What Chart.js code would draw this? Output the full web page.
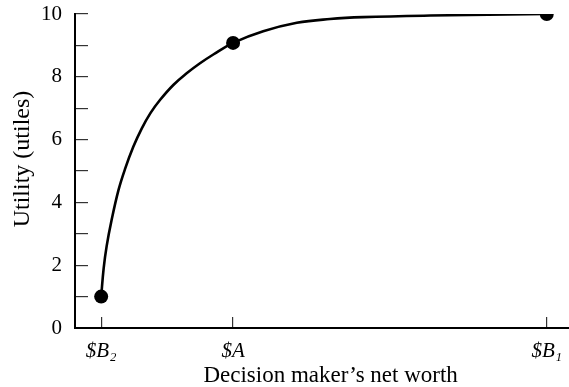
<!DOCTYPE html>
<html>
<head>
<meta charset="utf-8">
<script src="https://cdn.jsdelivr.net/npm/chart.js@4/dist/chart.umd.min.js"></script>
<style>
  html, body { margin: 0; padding: 0; background: #fff; overflow: hidden; }
  #wrap { width: 576px; height: 387px; position: relative; }
</style>
</head>
<body>
<div id="wrap"><canvas id="c"></canvas></div>
<script>
// Category tick positions on the net-worth axis and their labels
const xTickLabels = ['$B\u2082', '$A', '$B\u2081'];
const xTickValues = [5.3, 32, 95.5];

// Utility curve
const curveX = [5.3, 5.8, 6.4, 7.4, 8.8, 10.1, 11.8, 13.5, 15.3, 17.2, 19.9, 22.6, 25.3, 28.0, 32, 38.1, 44.9, 51.6, 58.3, 71.9, 95.5];
const curveY = [1.0, 1.9, 2.6, 3.43, 4.39, 5.05, 5.77, 6.35, 6.85, 7.26, 7.74, 8.11, 8.43, 8.71, 9.08, 9.45, 9.72, 9.84, 9.9, 9.95, 10.0];

// Marked points: $B2, $A, $B1
const markerX = [5.3, 32, 95.5];
const markerY = [1.0, 9.08, 10.0];

// Y tick labels (odd values are unlabeled minor ticks)
const yTickLabels = ['0', '', '2', '', '4', '', '6', '', '8', '', '10'];

const serif = '"Liberation Serif", "Times New Roman", serif';

new Chart(document.getElementById('c'), {
  type: 'scatter',
  data: {
    datasets: [
      {
        data: curveX.map((x, i) => ({ x, y: curveY[i] })),
        showLine: true,
        borderColor: '#000',
        borderWidth: 2.6,
        pointRadius: 0,
        tension: 0.4,
        fill: false
      },
      {
        data: markerX.map((x, i) => ({ x, y: markerY[i] })),
        showLine: false,
        pointRadius: 7,
        pointBackgroundColor: '#000',
        pointBorderColor: '#000',
        pointBorderWidth: 0
      }
    ]
  },
  options: {
    responsive: true,
    maintainAspectRatio: false,
    animation: false,
    layout: { padding: { top: 14, right: 0, left: 0, bottom: 0 } },
    plugins: { legend: { display: false }, tooltip: { enabled: false } },
    scales: {
      x: {
        type: 'linear',
        min: 0,
        max: 100,
        afterBuildTicks: (s) => { s.ticks = xTickValues.map(v => ({ value: v })); },
        afterFit: (s) => { s.height = 59; s.paddingLeft = 0; s.paddingRight = 0; },
        border: { display: true, color: '#000', width: 2 },
        grid: { drawOnChartArea: false, drawTicks: true, tickLength: -11, color: '#333', lineWidth: 1.2 },
        ticks: {
          padding: 22,
          maxRotation: 0,
          autoSkip: false,
          color: '#000',
          font: { family: serif, size: 21, style: 'italic' },
          callback: (v) => { const i = xTickValues.indexOf(v); return i >= 0 ? xTickLabels[i] : ''; }
        },
        title: {
          display: true,
          text: '\u00a0\u00a0\u00a0Decision maker\u2019s net worth',
          color: '#000',
          font: { family: serif, size: 23 },
          padding: { top: 0, bottom: -3 }
        }
      },
      y: {
        min: 0,
        max: 10,
        afterFit: (s) => { s.width = 75; s.paddingTop = 0; s.paddingBottom = 0; },
        border: { display: true, color: '#000', width: 2 },
        grid: { drawOnChartArea: false, drawTicks: true, tickLength: -13, color: '#333', lineWidth: 1.2 },
        ticks: {
          stepSize: 1,
          padding: 26,
          color: '#000',
          font: { family: serif, size: 21 },
          callback: (v) => yTickLabels[Math.round(v)]
        },
        title: {
          display: true,
          text: '\u00a0\u00a0\u00a0\u00a0Utility (utiles)',
          color: '#000',
          font: { family: serif, size: 24 },
          padding: { top: 8, bottom: 0 }
        }
      }
    }
  }
});
</script>
</body>
</html>
